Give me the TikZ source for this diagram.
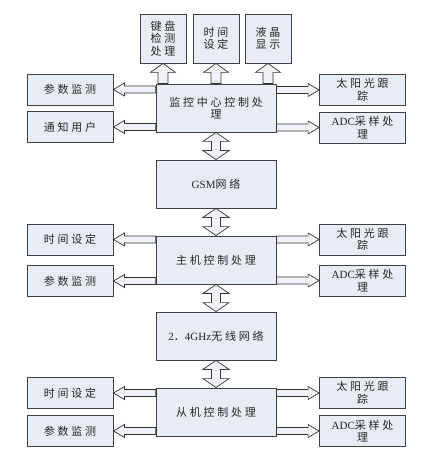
\documentclass[tikz,border=0pt]{standalone}
\usepackage{fontspec}
\setmainfont{Noto Sans CJK SC}[LetterSpace=25]
\newfontfamily\latinfont{Liberation Serif}
\newcommand{\lat}[1]{{\latinfont #1}}
\usetikzlibrary{calc,positioning}

\definecolor{boxfill}{HTML}{E8ECF4}
\definecolor{arrfill}{HTML}{F0F2F7}

\tikzset{
  box/.style={draw=black!75,line width=0.8pt,fill=boxfill,align=center,inner sep=1pt,
    font=\fontsize{11}{12.5}\selectfont,text=black!85},
  mainbox/.style={box,minimum width=120pt,minimum height=48pt},
  sidebox/.style={box,minimum width=86pt,minimum height=31pt},
  topbox/.style={box,minimum width=46pt,minimum height=49pt},
  arrowfill/.style={draw=black!80,line width=0.7pt,fill=arrfill,line join=miter}
}

% hollow arrow: tail, tip, shaft half width, head half width, head length
\newcommand{\onearrow}[5]{%
  \path ($(#2)!#5!(#1)$) coordinate (hb);
  \filldraw[arrowfill] ($(#1)!#3!90:(#2)$) -- ($(hb)!#3!90:(#2)$) -- ($(hb)!#4!90:(#2)$) -- (#2)
    -- ($(hb)!#4!-90:(#2)$) -- ($(hb)!#3!-90:(#2)$) -- ($(#1)!#3!-90:(#2)$) -- cycle;}
% hollow two-headed arrow
\newcommand{\twoarrow}[5]{%
  \path ($(#1)!#5!(#2)$) coordinate (ha) ($(#2)!#5!(#1)$) coordinate (hb);
  \filldraw[arrowfill] (#1) -- ($(ha)!#4!90:(#2)$) -- ($(ha)!#3!90:(#2)$) -- ($(hb)!#3!90:(#2)$)
    -- ($(hb)!#4!90:(#2)$) -- (#2) -- ($(hb)!#4!-90:(#2)$) -- ($(hb)!#3!-90:(#2)$)
    -- ($(ha)!#3!-90:(#2)$) -- ($(ha)!#4!-90:(#2)$) -- cycle;}

\begin{document}
\begin{tikzpicture}[x=1pt,y=-1pt]
\useasboundingbox (0,0) rectangle (441,465);

% monitoring centre
\node[topbox] (kb) at (163,38.5) {键盘\\检测\\处理};
\node[topbox] (tm) at (216,38.5) {时间\\设定};
\node[topbox] (lcd) at (268,38.5) {液晶\\显示};
\node[mainbox] (c1) at (216,108) {监控中心控制处\\理};
\node[sidebox] (p1) at (70,89.5) {参数监测};
\node[sidebox] (n1) at (70,127) {通知用户};
\node[sidebox] (s1) at (362.5,90) {太阳光跟\\踪};
\node[sidebox] (a1) at (362.5,127.5) {\lat{ADC}采样处\\理};

\node[mainbox] (gsm) at (216,184) {\lat{GSM}网络};

% host
\node[mainbox] (c2) at (216,260) {主机控制处理};
\node[sidebox] (t2) at (70,239.5) {时间设定};
\node[sidebox] (p2) at (70,281) {参数监测};
\node[sidebox] (s2) at (362.5,239.5) {太阳光跟\\踪};
\node[sidebox] (a2) at (362.5,280.5) {\lat{ADC}采样处\\理};

\node[mainbox] (net) at (216,336) {\lat{2}．\lat{4GHz}无线网络};

% slave
\node[mainbox] (c3) at (216,412) {从机控制处理};
\node[sidebox] (t3) at (70,393) {时间设定};
\node[sidebox] (p3) at (70,431) {参数监测};
\node[sidebox] (s3) at (362.5,393) {太阳光跟\\踪};
\node[sidebox] (a3) at (362.5,431) {\lat{ADC}采样处\\理};

% arrows
\foreach \t in {kb,tm,lcd}
  \onearrow{\t.south |- c1.north}{\t.south}{5pt}{12.5pt}{9pt};
\foreach \m/\l/\r in {c1/p1/s1,c1/n1/a1,c2/t2/s2,c2/p2/a2,c3/t3/s3,c3/p3/a3}{
  \onearrow{\m.west |- \l.east}{\l.east}{3.5pt}{6.5pt}{11pt}
  \onearrow{\m.east |- \r.west}{\r.west}{3.5pt}{6.5pt}{11pt}
}
\twoarrow{c1.south}{gsm.north}{4.5pt}{13pt}{9pt}
\twoarrow{gsm.south}{c2.north}{4.5pt}{13pt}{9pt}
\twoarrow{c2.south}{net.north}{4.5pt}{13pt}{9pt}
\twoarrow{net.south}{c3.north}{4.5pt}{13pt}{9pt}
\end{tikzpicture}
\end{document}
